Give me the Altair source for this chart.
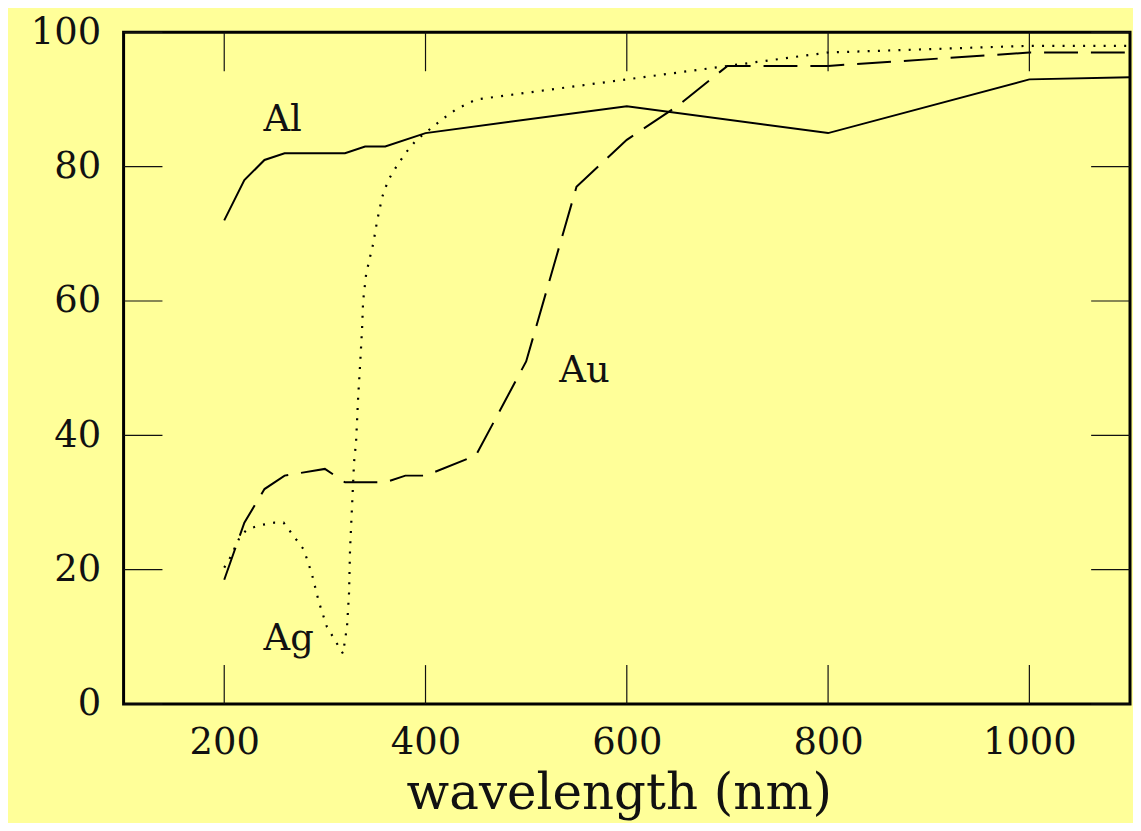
import altair as alt
import pandas as pd

# Al (solid)
al_wl = [200, 220, 240, 260, 320, 340, 360, 400, 600, 800, 1000, 1100]
al_r = [72, 78, 81, 82, 82, 83, 83, 85, 89, 85, 93, 93.3]

# Au (dashed)
au_wl = [200, 220, 240, 260, 300, 320, 360, 380, 400, 450, 500, 550, 600, 650, 700, 800, 1000, 1100]
au_r = [18.5, 27, 32, 34, 35, 33, 33, 34, 34, 37, 51, 77, 84, 89, 95, 95, 97, 97]

# Ag (dotted)
ag_wl = [200, 205, 216, 223, 235, 250, 259, 269, 279, 287, 294, 302, 310, 318, 322, 324, 325,
         327, 329, 331, 333, 335, 337, 338, 341, 344, 348, 352, 357, 363, 371, 380, 391, 402,
         416, 430, 450, 600, 700, 800, 1000, 1100]
ag_r = [20.3, 21.5, 25, 26, 26.6, 27, 27, 25, 23, 19.4, 15.2, 11.5, 9.5, 7.5, 11.5, 16.5, 23,
        29.5, 36, 39, 45.5, 50.5, 56, 60, 64, 66, 68.5, 72, 75.5, 78, 80, 82, 84, 85.3,
        87, 88.5, 90, 93, 95, 97, 98, 98]

# curve labels
lab_text = ["Al", "Au", "Ag"]
lab_x = [258, 558, 264]
lab_y = [85.3, 47.9, 8.0]

x_ticks = [200, 400, 600, 800, 1000]
y_ticks = [0, 20, 40, 60, 80, 100]

FONT = "DejaVu Serif"
W, H = 1010, 674

xs = alt.Scale(domain=[100, 1100], nice=False, zero=False)
ys = alt.Scale(domain=[0, 100], nice=False, zero=False)

x_axis = alt.Axis(values=x_ticks, format="d", ticks=False, tickSize=0, domain=False, grid=False,
                  labelFont=FONT, labelFontSize=37, labelColor="#111", labelPadding=21,
                  labelBaseline="top", labelFlush=False,
                  title="wavelength (nm)", titleFont=FONT, titleFontSize=50,
                  titleFontWeight="normal", titleColor="#111", titleX=497, titleY=105,
                  titleBaseline="alphabetic", titleAlign="center")
y_axis = alt.Axis(values=y_ticks, format="d", ticks=False, tickSize=0, domain=False, grid=False,
                  labelFont=FONT, labelFontSize=37, labelColor="#111", labelPadding=23,
                  labelBaseline="middle", labelFlush=False, title=None)

df_al = pd.DataFrame({"wl": al_wl, "r": al_r})
df_au = pd.DataFrame({"wl": au_wl, "r": au_r})
df_ag = pd.DataFrame({"wl": ag_wl, "r": ag_r})
df_lab = pd.DataFrame({"t": lab_text, "x": lab_x, "y": lab_y})
df_xt = pd.DataFrame({"v": x_ticks})
df_yt = pd.DataFrame({"v": y_ticks})

base_x = alt.X("wl:Q", scale=xs, axis=x_axis)
base_y = alt.Y("r:Q", scale=ys, axis=y_axis)

line_al = alt.Chart(df_al).mark_line(color="black", strokeWidth=2).encode(x=base_x, y=base_y)
line_au = alt.Chart(df_au).mark_line(color="black", strokeWidth=2, strokeDash=[34, 13]).encode(
    x=alt.X("wl:Q", scale=xs), y=alt.Y("r:Q", scale=ys))
line_ag = alt.Chart(df_ag).mark_line(color="black", strokeWidth=2.2, strokeDash=[2, 8.3]).encode(
    x=alt.X("wl:Q", scale=xs), y=alt.Y("r:Q", scale=ys))

labels = alt.Chart(df_lab).mark_text(font=FONT, fontSize=37, color="#111", align="center",
                                     baseline="alphabetic").encode(
    x=alt.X("x:Q", scale=xs), y=alt.Y("y:Q", scale=ys), text="t:N")

tick_col = "#111"
xt_bot = alt.Chart(df_xt).mark_rule(color=tick_col, strokeWidth=1.2).encode(
    x=alt.X("v:Q", scale=xs), y=alt.value(H), y2=alt.value(H - 39))
xt_top = alt.Chart(df_xt).mark_rule(color=tick_col, strokeWidth=1.2).encode(
    x=alt.X("v:Q", scale=xs), y=alt.value(0), y2=alt.value(39))
yt_left = alt.Chart(df_yt).mark_rule(color=tick_col, strokeWidth=1.2).encode(
    y=alt.Y("v:Q", scale=ys), x=alt.value(0), x2=alt.value(39))
yt_right = alt.Chart(df_yt).mark_rule(color=tick_col, strokeWidth=1.2).encode(
    y=alt.Y("v:Q", scale=ys), x=alt.value(W), x2=alt.value(W - 39))

chart = alt.layer(line_al, line_au, line_ag, labels, xt_bot, xt_top, yt_left, yt_right).properties(
    width=W, height=H,
    background="#FFFF99",
    autosize=alt.AutoSizeParams(type="none"),
    padding={"left": 116, "top": 23, "right": 3, "bottom": 118},
).configure_view(stroke="black", strokeWidth=3, fill="#FFFF99")

chart.save("out.html", embed_options={"renderer": "svg", "actions": False})
